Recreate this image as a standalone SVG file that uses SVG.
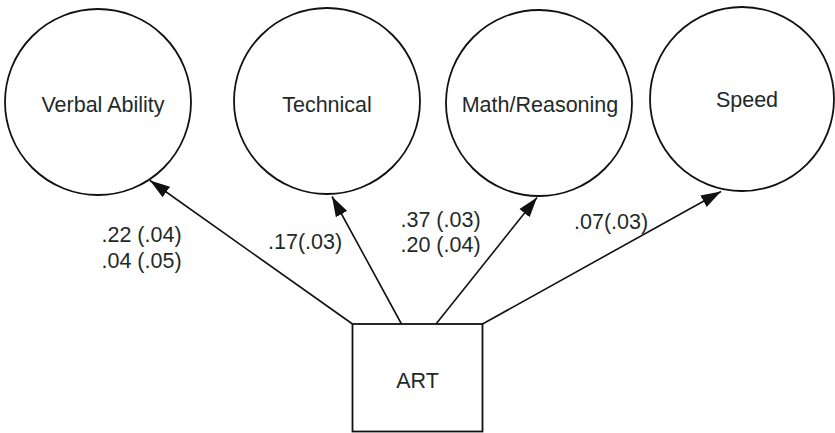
<svg xmlns="http://www.w3.org/2000/svg" width="835" height="433" viewBox="0 0 835 433">
  <style>
    .node { fill: #ffffff; stroke: #111111; stroke-width: 1.8; }
    .label { font-family: "Liberation Sans", Arial, sans-serif; font-size: 21.5px; fill: #1e2a2a; }
    .mid { text-anchor: middle; }
    .edge { stroke: #111111; stroke-width: 1.6; fill: none; marker-end: url(#arrow); }
  </style>
  <defs>
    <marker id="arrow" markerUnits="userSpaceOnUse" markerWidth="22" markerHeight="16" viewBox="0 -8 22 16" refX="20" refY="0" orient="auto">
      <path d="M0,-6.5 L20,0 L0,6.5 z" fill="#111111"/>
    </marker>
  </defs>
  <rect width="835" height="433" fill="#ffffff"/>

  <!-- latent factors -->
  <g id="verbal">
    <circle class="node" cx="98" cy="102" r="93"/>
    <text class="label mid" x="103" y="112">Verbal Ability</text>
  </g>
  <g id="technical">
    <circle class="node" cx="327" cy="101" r="93"/>
    <text class="label mid" x="327" y="112">Technical</text>
  </g>
  <g id="math">
    <circle class="node" cx="539" cy="103" r="93"/>
    <text class="label mid" x="540" y="112">Math/Reasoning</text>
  </g>
  <g id="speed">
    <circle class="node" cx="742" cy="99" r="92"/>
    <text class="label mid" x="747" y="107">Speed</text>
  </g>

  <!-- observed variable -->
  <g id="art">
    <rect class="node" x="352.5" y="324" width="130" height="107.5"/>
    <text class="label mid" x="417.5" y="388">ART</text>
  </g>

  <!-- paths from ART to each factor -->
  <g id="connectors">
    <line class="edge" x1="352.5" y1="324" x2="150" y2="180.5"/>
    <line class="edge" x1="401.5" y1="324" x2="332" y2="196.5"/>
    <line class="edge" x1="436" y1="324" x2="537" y2="197.5"/>
    <line class="edge" x1="482.5" y1="324" x2="721" y2="191.5"/>
  </g>

  <!-- path coefficients -->
  <g id="coefficients">
    <text class="label" x="101.5" y="242">.22 (.04)</text>
    <text class="label" x="101.5" y="267.5">.04 (.05)</text>
    <text class="label" x="268" y="248.5">.17(.03)</text>
    <text class="label" x="400.5" y="227">.37 (.03)</text>
    <text class="label" x="400.5" y="252">.20 (.04)</text>
    <text class="label" x="574" y="228.5">.07(.03)</text>
  </g>
</svg>
